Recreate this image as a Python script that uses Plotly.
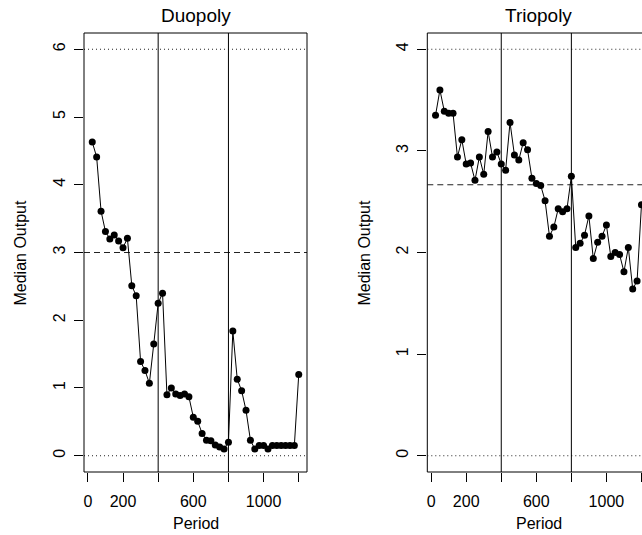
import plotly.graph_objects as go

period = [25 * i for i in range(1, 49)]

duopoly = [4.63, 4.41, 3.61, 3.31, 3.20, 3.26, 3.17, 3.07, 3.21, 2.51,
           2.36, 1.39, 1.26, 1.07, 1.65, 2.25, 2.40, 0.90, 1.00, 0.91,
           0.89, 0.91, 0.87, 0.57, 0.51, 0.33, 0.23, 0.22, 0.16, 0.13,
           0.10, 0.20, 1.84, 1.13, 0.96, 0.67, 0.23, 0.10, 0.15, 0.15,
           0.10, 0.15, 0.15, 0.15, 0.15, 0.15, 0.15, 1.20]

triopoly = [3.35, 3.60, 3.39, 3.37, 3.37, 2.94, 3.11, 2.87, 2.88, 2.71,
            2.94, 2.77, 3.19, 2.94, 2.99, 2.87, 2.81, 3.28, 2.96, 2.91,
            3.08, 3.01, 2.73, 2.68, 2.66, 2.51, 2.16, 2.25, 2.43, 2.40,
            2.43, 2.75, 2.05, 2.09, 2.17, 2.36, 1.94, 2.10, 2.16, 2.27,
            1.96, 2.00, 1.98, 1.81, 2.05, 1.64, 1.72, 2.47]

titles = ["Duopoly", "Triopoly"]
dotted_levels = [[0, 6], [0, 4]]
dashed_levels = [3, 8 / 3]
phase_breaks = [400, 800]
x_tickvals = [0, 200, 400, 600, 800, 1000, 1200]
x_ticktext = ["0", "200", "", "600", "", "1000", ""]
y_tickvals = [[0, 1, 2, 3, 4, 5, 6], [0, 1, 2, 3, 4]]

W, H = 642, 535
FONT = "Liberation Sans, Arial, Helvetica, sans-serif"

fig = go.Figure()

left_px = [(84, 307), (427.3, 642)]
xranges = [[-22, 1247], [-22, 1203]]
yranges = [[-0.24, 6.24], [-0.16, 4.16]]
ydom = [(535 - 472) / 535, (535 - 33) / 535]

series = [duopoly, triopoly]
for k in range(2):
    xa = "x" if k == 0 else "x2"
    ya = "y" if k == 0 else "y2"
    for lv in dotted_levels[k]:
        fig.add_trace(go.Scatter(x=[xranges[k][0], xranges[k][1]], y=[lv, lv], mode="lines",
                                 line=dict(color="#222", width=1, dash="1px,3px"),
                                 xaxis=xa, yaxis=ya, showlegend=False, hoverinfo="skip"))
    fig.add_trace(go.Scatter(x=[xranges[k][0], xranges[k][1]], y=[dashed_levels[k]] * 2, mode="lines",
                             line=dict(color="#222", width=1, dash="6px,4px"),
                             xaxis=xa, yaxis=ya, showlegend=False, hoverinfo="skip"))
    for b in phase_breaks:
        fig.add_trace(go.Scatter(x=[b, b], y=[yranges[k][0], yranges[k][1]], mode="lines",
                                 line=dict(color="#000", width=1),
                                 xaxis=xa, yaxis=ya, showlegend=False, hoverinfo="skip"))
    fig.add_trace(go.Scatter(x=period, y=series[k], mode="lines+markers",
                             line=dict(color="#000", width=1),
                             marker=dict(color="#000", size=7),
                             xaxis=xa, yaxis=ya, showlegend=False))

axis_common = dict(showgrid=False, zeroline=False, showline=False,
                   ticks="outside", ticklen=9, tickcolor="#000", tickwidth=1,
                   tickfont=dict(family=FONT, size=16, color="#000"))

for k in range(2):
    xdom = [left_px[k][0] / W, left_px[k][1] / W]
    xkey = "xaxis" if k == 0 else "xaxis2"
    ykey = "yaxis" if k == 0 else "yaxis2"
    fig.update_layout(**{
        xkey: dict(axis_common, domain=xdom, range=xranges[k], tickmode="array",
                   tickvals=x_tickvals, ticktext=x_ticktext,
                   ticklabelstandoff=6, anchor="y" if k == 0 else "y2"),
        ykey: dict(axis_common, domain=ydom, range=yranges[k], tickmode="array",
                   tickvals=y_tickvals[k], ticktext=[str(v) for v in y_tickvals[k]],
                   tickangle=-90, ticklabelstandoff=3,
                   anchor="x" if k == 0 else "x2"),
    })

shapes = []
frame = dict(color="#000", width=1)
shapes.append(dict(type="rect", xref="x domain", yref="y domain", x0=0, x1=1, y0=0, y1=1,
                   line=frame, layer="above"))
for (x0, y0, x1, y1) in [(0, 0, 1, 0), (0, 1, 1, 1), (0, 0, 0, 1)]:
    shapes.append(dict(type="line", xref="x2 domain", yref="y2 domain",
                       x0=x0, y0=y0, x1=x1, y1=y1, line=frame, layer="above"))

annotations = []
centers = [195.5, 538.5]
ylab_x = [20, 364]
for k in range(2):
    annotations.append(dict(text=titles[k], x=centers[k] / W, y=(535 - 15) / 535,
                            xref="paper", yref="paper", showarrow=False,
                            xanchor="center", yanchor="middle",
                            font=dict(family=FONT, size=19, color="#000")))
    annotations.append(dict(text="Period", x=centers[k] / W, y=(535 - 523) / 535,
                            xref="paper", yref="paper", showarrow=False,
                            xanchor="center", yanchor="middle",
                            font=dict(family=FONT, size=16, color="#000")))
    annotations.append(dict(text="Median Output", x=ylab_x[k] / W, y=(535 - 252.5) / 535,
                            xref="paper", yref="paper", showarrow=False, textangle=-90,
                            xanchor="center", yanchor="middle",
                            font=dict(family=FONT, size=16, color="#000")))

fig.update_layout(width=W, height=H, margin=dict(l=0, r=0, t=0, b=0),
                  paper_bgcolor="white", plot_bgcolor="white",
                  annotations=annotations, shapes=shapes, showlegend=False)

fig.write_html("out.html")
